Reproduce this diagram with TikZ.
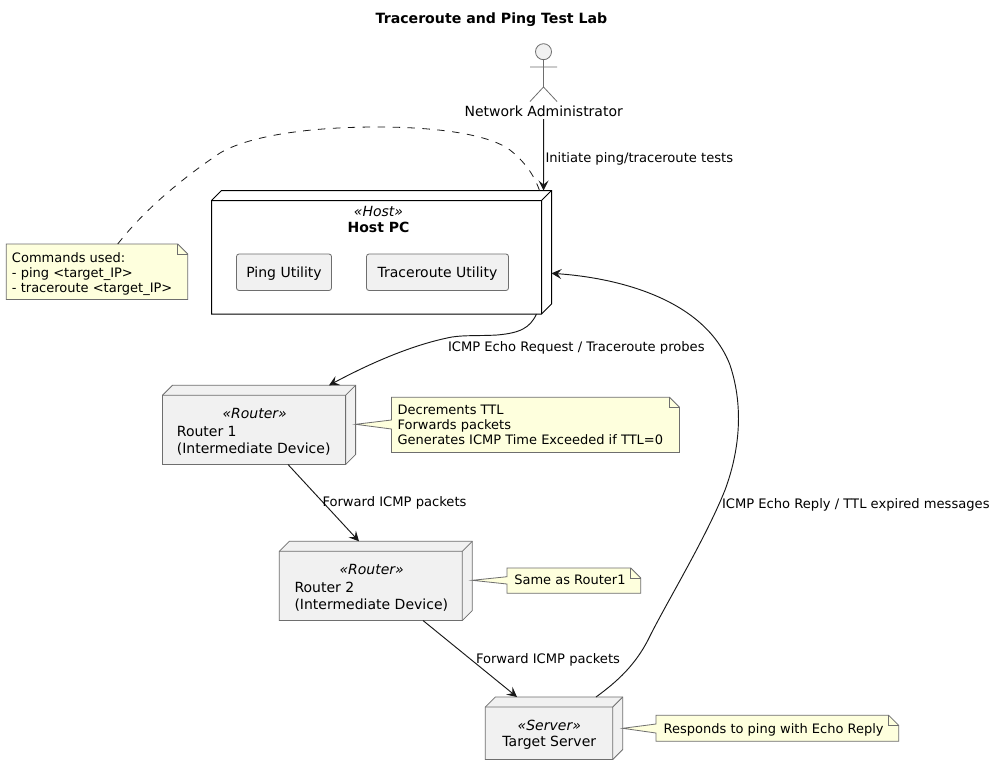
\documentclass[tikz,border=0pt]{standalone}
\usepackage{fontspec}
\setmainfont{DejaVu Sans}
\usetikzlibrary{arrows.meta,calc,fit}
\definecolor{notefill}{HTML}{FEFFDD}
\definecolor{boxfill}{HTML}{F1F1F1}
\definecolor{ink}{HTML}{181818}
\definecolor{edgegray}{HTML}{6E6E6E}
\newcommand{\cubeshape}[6]{% name,x1,y1,x2,y2 (outer), style
  \path[#6] (#2+10,#3) -- (#4,#3) -- (#4,#5-10) -- (#4-10,#5) -- (#2,#5) -- (#2,#3+10) -- cycle;
  \draw[#6,fill=none] (#2,#3+10) -- (#4-10,#3+10) -- (#4-10,#5) (#4-10,#3+10) -- (#4,#3);
  \node[frame,fit={(#2,#3) (#4,#5)}] (#1) {};
}
\newcommand{\noteshape}[6]{% name,x1,y1,x2,y2, left-edge path
  \path[notebox] (#2,#3) #6 -- (#2,#5) -- (#4,#5) -- (#4,#3+10) -- (#4-10,#3) -- cycle;
  \draw[notebox,fill=none] (#4-10,#3) -- (#4-10,#3+10) -- (#4,#3+10);
  \node[frame,fit={(#2,#3) (#4,#5)}] (#1) {};
}
\tikzset{
  frame/.style={inner sep=0pt,outer sep=0pt,draw=none},
  notebox/.style={draw=edgegray,fill=notefill,line width=.6pt,line join=miter},
  nodebox/.style={draw=edgegray,fill=boxfill,line width=.6pt},
  hostbox/.style={draw=black,fill=white,line width=.75pt},
  utilbox/.style={draw=edgegray,fill=boxfill,line width=.6pt,rounded corners=1.9pt,inner sep=0pt,outer sep=0pt},
  big/.style={inner sep=0pt,outer sep=0pt,anchor=north west,align=left,font=\fontsize{10.5}{12.4}\selectfont},
  small/.style={inner sep=0pt,outer sep=0pt,anchor=north west,align=left,font=\fontsize{9.75}{11.35}\selectfont},
  bigc/.style={inner sep=0pt,outer sep=0pt,anchor=base,font=\fontsize{10.5}{12.4}\selectfont},
  smallb/.style={inner sep=0pt,outer sep=0pt,anchor=base west,font=\fontsize{9.83}{11.35}\selectfont},
  edge/.style={draw=ink,line width=.7pt,-{Stealth[length=7.5pt,width=7.5pt,inset=3pt]}},
  notelink/.style={draw=ink,line width=.6pt,dash pattern=on 5.6pt off 5.6pt},
  actorline/.style={draw=edgegray,line width=.6pt},
}
\begin{document}
\begin{tikzpicture}[x=.75pt,y=-.75pt]
\path[use as bounding box,fill=white] (0,0) rectangle (995,775);

\node[bigc,font=\fontsize{10.6}{12.4}\selectfont\bfseries] (title) at (491.5,23) {Traceroute and Ping Test Lab};

% actor
\node[circle,draw=edgegray,fill=boxfill,line width=.6pt,minimum size=12pt,inner sep=0pt] (head) at (543.5,51.7) {};
\coordinate (neck) at (head.south);
\coordinate (hip) at (543.5,87);
\draw[actorline] (neck) -- (hip) (530,67) -- (557,67) (530,101.5) -- (hip) -- (557,101.5);
\node[bigc] (admin) at (543.7,116) {Network Administrator};

% host
\cubeshape{host}{211.5}{190.5}{551.5}{314}{hostbox}
\node[bigc,font=\fontsize{10.5}{12.4}\selectfont\itshape] (hostst) at (378.5,216) {«Host»};
\node[bigc,font=\fontsize{10.5}{12.4}\selectfont\bfseries] (hostname) at (378.5,232) {Host PC};
\node[utilbox,fit={(236.5,254) (331.5,290.5)}] (ping) {};
\node[bigc] (pingt) at (284,277) {Ping Utility};
\node[utilbox,fit={(366.5,254) (508.5,290.5)}] (trace) {};
\node[bigc] (tracet) at (437.5,277) {Traceroute Utility};

% routers and server
\cubeshape{rone}{162.4}{385.3}{355.6}{464.5}{nodebox}
\node[bigc,font=\fontsize{10.5}{12.4}\selectfont\itshape] (ronest) at (254.7,418) {«Router»};
\node[big] (ronet) at (176.9,425) {\strut Router 1\\(Intermediate Device)};
\cubeshape{rtwo}{279.3}{541.3}{472.3}{620.5}{nodebox}
\node[bigc,font=\fontsize{10.5}{12.4}\selectfont\itshape] (rtwost) at (371.7,574) {«Router»};
\node[big] (rtwot) at (294.5,581) {\strut Router 2\\(Intermediate Device)};
\cubeshape{srv}{485.3}{697}{622.7}{759.5}{nodebox}
\node[bigc,font=\fontsize{10.5}{12.4}\selectfont\itshape] (srvst) at (549.3,730) {«Server»};
\node[bigc] (srvt) at (549.3,746) {Target Server};

% notes
\noteshape{ncmd}{6.3}{244}{187.7}{299.5}{}
\node[small] (ncmdt) at (12,251.4) {\strut Commands used:\\- ping <target\_IP>\\- traceroute <target\_IP>};
\noteshape{nr1}{391.4}{397.3}{679.5}{452.5}{-- (391.4,420) -- ($(rone.north east)+(0,39)$) -- (391.4,429)}
\node[small] (nr1t) at (397.6,403.6) {\strut Decrements TTL\\Forwards packets\\Generates ICMP Time Exceeded if TTL=0};
\noteshape{nr2}{507}{568}{640.7}{593.3}{-- (507,576.7) -- ($(rtwo.north east)+(0,39)$) -- (507,584)}
\node[small] (nr2t) at (514.3,574.3) {\strut Same as Router1};
\noteshape{nsrv}{656}{715.3}{898.7}{741.3}{-- (656,724) -- ($(srv.north east)+(0,31.3)$) -- (656,733)}
\node[small] (nsrvt) at (663.7,722.6) {\strut Responds to ping with Echo Reply};

% connectors
\draw[notelink] ($(ncmd.north west)+(111.4,0)$) .. controls (135,222) and (165,190) .. (220,153)
  .. controls (245,138) and (300,127) .. (377,127)
  .. controls (440,127) and (490,135) .. (510,150)
  .. controls (525,162) and (534,175) .. ($(host.north west)+(328,0)$);
\draw[edge] ($(admin.base)+(0,3)$) -- ($(host.north east)+(-8,0)$);
\draw[edge] ($(host.south west)+(325,0)$) .. controls (530,328) and (520,333) .. (497,335)
  .. controls (480,336) and (465,335) .. (452,337)
  .. controls (410,345) and (365,366) .. ($(rone.north west)+(166.6,0)$);
\draw[edge] ($(rone.south west)+(125.6,0)$) -- ($(rtwo.north west)+(79.7,0)$);
\draw[edge] ($(rtwo.south west)+(143.7,0)$) -- ($(srv.north west)+(31.7,0)$);
\draw[edge] ($(srv.north west)+(110.7,0)$) .. controls (618,681) and (635,665) .. (648,640)
  .. controls (665,605) and (705,540) .. (725,490)
  .. controls (738,455) and (745,410) .. (730,365)
  .. controls (705,300) and (620,278) .. ($(host.north east)+(0,82.8)$);

% edge labels
\node[smallb] (l1) at (545.5,162) {Initiate ping/traceroute tests};
\node[smallb] (l2) at (448,351) {ICMP Echo Request / Traceroute probes};
\node[smallb] (l3) at (322.5,506) {Forward ICMP packets};
\node[smallb] (l4) at (476,663) {Forward ICMP packets};
\node[smallb] (l5) at (722,508) {ICMP Echo Reply / TTL expired messages};
\end{tikzpicture}
\end{document}
